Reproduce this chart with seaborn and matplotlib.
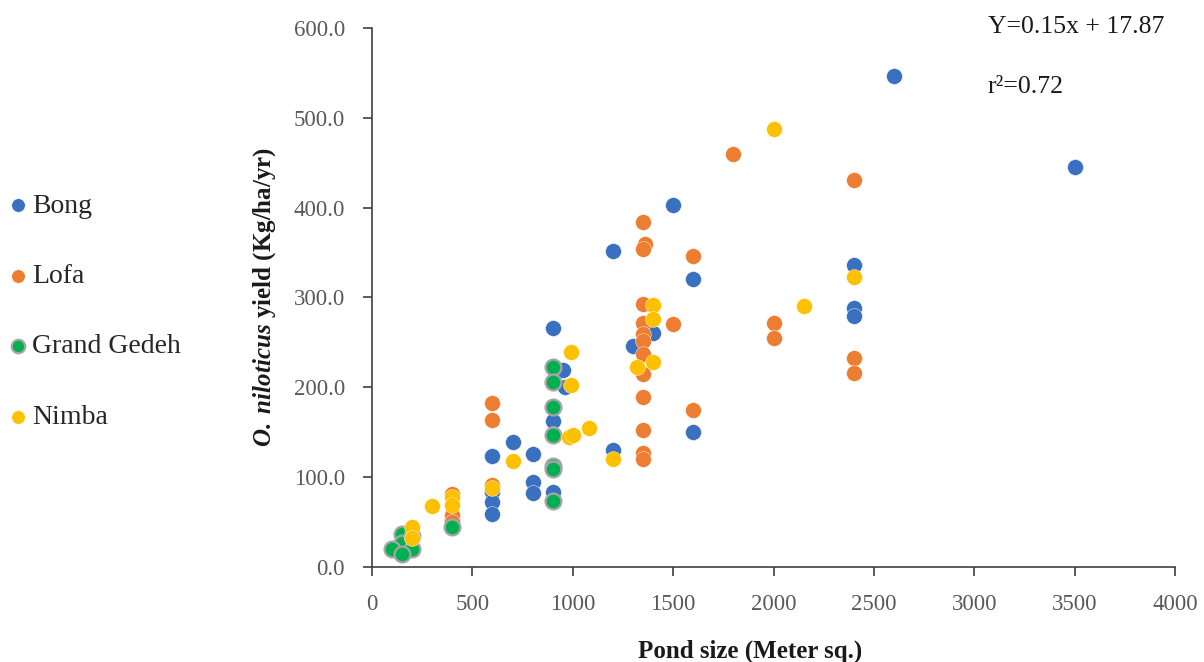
import matplotlib
matplotlib.use("Agg")
import matplotlib.pyplot as plt
import seaborn as sns
import pandas as pd

# pond size (m2) and O. niloticus yield (kg/ha/yr) per county
bong_x = [2600, 3500, 1500, 1200, 1600, 2400, 2400, 2400, 900, 950, 960, 1300, 1400,
          1600, 1200, 900, 900, 900, 800, 800, 800, 700, 600, 600, 600, 600, 400]
bong_y = [546, 445, 403, 352, 320, 336, 288, 279, 266, 219, 200, 246, 260,
          150, 130, 163, 148, 83, 95, 82, 126, 139, 124, 84, 72, 59, 52]

lofa_x = [1800, 2400, 1350, 1360, 1350, 1600, 1350, 1350, 1350, 1350, 1350, 1350, 1500,
          1350, 1350, 1350, 1350, 1600, 2000, 2000, 2400, 2400, 600, 600, 600, 400, 400, 400]
lofa_y = [460, 431, 384, 359, 354, 346, 293, 271, 259, 251, 237, 215, 270,
          189, 153, 127, 120, 175, 272, 255, 233, 216, 183, 164, 91, 81, 58, 50]

gg_x = [900, 900, 900, 900, 900, 900, 900, 400, 150, 150, 200, 100, 150, 200]
gg_y = [222, 206, 178, 147, 112, 109, 73, 44, 37, 27, 20, 20, 15, 34]

nimba_x = [2000, 2400, 2150, 1400, 1400, 1400, 1320, 990, 990, 980, 1000, 1080, 1200,
           700, 600, 400, 400, 300, 200, 200]
nimba_y = [487, 323, 290, 291, 276, 228, 222, 239, 203, 145, 147, 155, 120,
           118, 88, 78, 69, 68, 45, 32]

counties = ["Bong", "Lofa", "Grand Gedeh", "Nimba"]
colors = {"Bong": "#3A70C0", "Lofa": "#ED7D31", "Grand Gedeh": "#00B050", "Nimba": "#FFC000"}

df = pd.concat([
    pd.DataFrame({"size": bong_x, "yield": bong_y, "county": "Bong"}),
    pd.DataFrame({"size": lofa_x, "yield": lofa_y, "county": "Lofa"}),
    pd.DataFrame({"size": gg_x, "yield": gg_y, "county": "Grand Gedeh"}),
    pd.DataFrame({"size": nimba_x, "yield": nimba_y, "county": "Nimba"}),
])

sns.set_style("white")
plt.rcParams["font.family"] = ["Liberation Serif", "DejaVu Serif"]
plt.rcParams["mathtext.fontset"] = "custom"
plt.rcParams["mathtext.rm"] = "Liberation Serif"
plt.rcParams["mathtext.it"] = "Liberation Serif:italic"
plt.rcParams["mathtext.bf"] = "Liberation Serif:bold"
plt.rcParams["mathtext.bfit"] = "Liberation Serif:italic:bold"

fig = plt.figure(figsize=(12.04, 6.62), dpi=100)
ax = fig.add_axes([0.309, 0.1435, 0.667, 0.8145])

for c in counties:
    sub = df[df["county"] == c]
    edge = "#A5A5A5" if c == "Grand Gedeh" else "white"
    lw = 1.6 if c == "Grand Gedeh" else 0.3
    sns.scatterplot(data=sub, x="size", y="yield", ax=ax, color=colors[c],
                    s=130, edgecolor=edge, linewidth=lw, label=c, zorder=3)

ax.set_xlim(0, 4000)
ax.set_ylim(0, 600)
ax.set_xticks(range(0, 4001, 500))
ax.set_yticks(range(0, 601, 100))
ax.set_yticklabels([f"{v:.1f}" for v in range(0, 601, 100)])
ax.tick_params(axis="both", labelsize=16.5, colors="#595959", length=6.5, width=1.2,
               direction="out", left=True, bottom=True, pad=13)
ax.tick_params(axis="both", color="#404040")
for sp in ["top", "right"]:
    ax.spines[sp].set_visible(False)
for sp in ["left", "bottom"]:
    ax.spines[sp].set_color("#404040")
    ax.spines[sp].set_linewidth(1.2)

ax.set_xlabel("Pond size (Meter sq.)", fontsize=18, fontweight="bold", color="#1a1a1a")
ax.xaxis.set_label_coords(0.471, -0.135)
ax.set_ylabel(r"$\mathbfit{O.\ niloticus}$ yield (Kg/ha/yr)", fontsize=18,
              fontweight="bold", color="#1a1a1a", labelpad=11)

fig.text(0.8205, 0.959, "Y=0.15x + 17.87", fontsize=18.5, color="#1a1a1a", va="center")
fig.text(0.8205, 0.868, "r\u00b2=0.72", fontsize=18.5, color="#1a1a1a", va="center")

ax.legend(loc="center left", bbox_to_anchor=(0.0058, 0.5295), bbox_transform=fig.transFigure,
          frameon=False, fontsize=20, labelspacing=1.62, handletextpad=0.1,
          handlelength=0.8, borderpad=0, borderaxespad=0, markerscale=0.85)

fig.savefig("out.png", dpi=100)
